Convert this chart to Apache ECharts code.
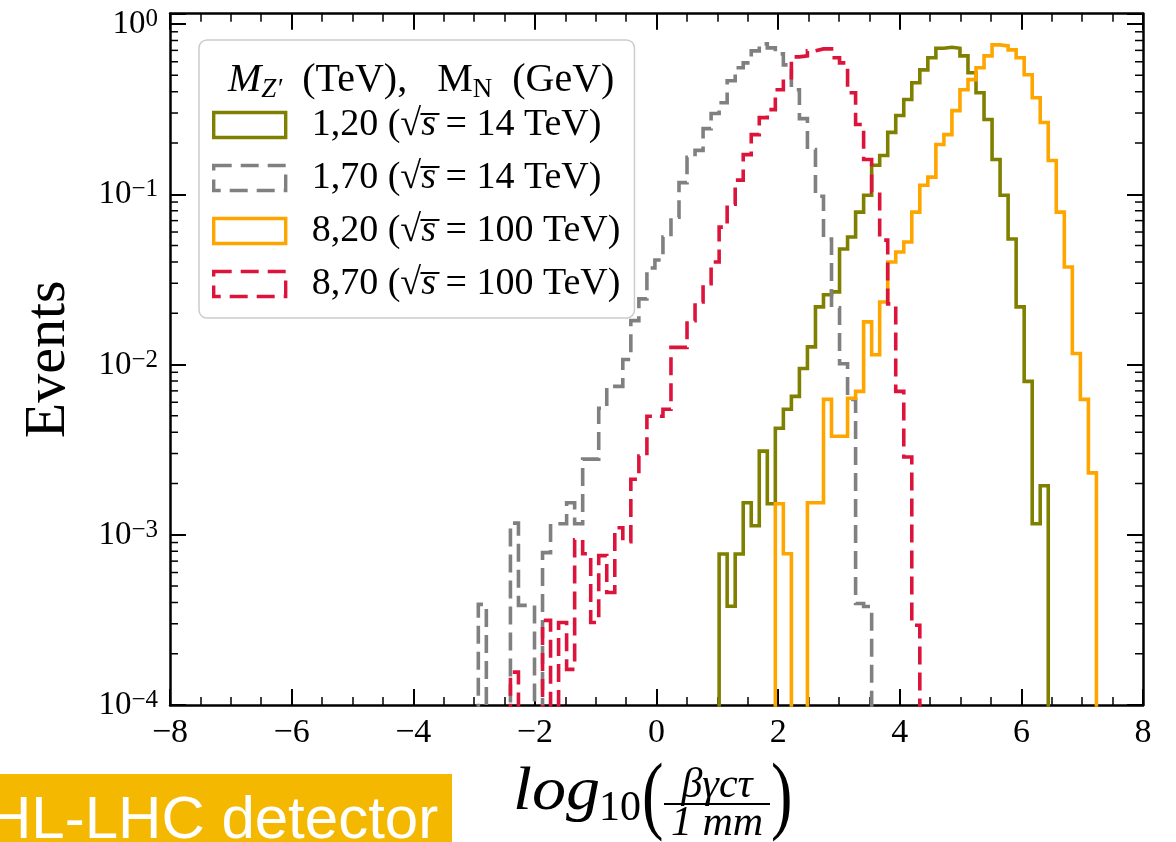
<!DOCTYPE html>
<html>
<head>
<meta charset="utf-8">
<script src="https://cdn.jsdelivr.net/npm/echarts@6/dist/echarts.min.js"></script>
<style>
html, body { margin: 0; padding: 0; background: #fff; }
#chart { width: 1176px; height: 842px; }
</style>
</head>
<body>
<div id="chart"></div>
<script>
// common histogram bin width in log10(beta gamma c tau / 1 mm)
var binWidth = 0.132;

// 1,20 (sqrt(s) = 14 TeV)
var oliveStart = 1.03;
var oliveVals = [0.00077, 0.00038, 0.00077, 0.00154, 0.00113, 0.0031, 0.00152, 0.00422, 0.00546, 0.0065,
    0.00948, 0.0127, 0.0218, 0.0257, 0.0267, 0.0477, 0.0561, 0.0785, 0.0986, 0.148,
    0.169, 0.231, 0.29, 0.36, 0.452, 0.538, 0.633, 0.72, 0.73, 0.72,
    0.65, 0.517, 0.395, 0.275, 0.16, 0.0986, 0.0546, 0.0218, 0.00796, 0.00116, 0.00194];

// 1,70 (sqrt(s) = 14 TeV)
var grayStart = -2.93;
var grayVals = [0.00039, 0, 0, 0, 0.00117, 0.000385, 0.000385, 0, 0.000785, 0.00116,
    0.00116, 0.00154, 0.00116, 0.00278, 0.00278, 0.00553, 0.00744, 0.00744, 0.0107, 0.0181,
    0.0243, 0.0369, 0.0411, 0.0561, 0.0733, 0.117, 0.165, 0.181, 0.243, 0.298,
    0.345, 0.464, 0.553, 0.591, 0.695, 0.764, 0.724, 0.668, 0.575, 0.411,
    0.278, 0.183, 0.0973, 0.0546, 0.0215, 0.0101, 0.00624, 0.000395, 0.000379];

// 8,20 (sqrt(s) = 100 TeV)
var orangeStart = 1.954;
var orangeVals = [0.00152, 0.000774, 0, 0, 0.00154, 0.00154, 0.00624, 0.00379, 0.00379, 0.00633,
    0.00695, 0.0178, 0.0114, 0.0233, 0.04, 0.0458, 0.0524, 0.0785, 0.113, 0.126,
    0.196, 0.224, 0.31, 0.411, 0.471, 0.553, 0.65, 0.754, 0.744, 0.705,
    0.633, 0.503, 0.369, 0.264, 0.158, 0.0785, 0.0374, 0.0116, 0.00624, 0.00231];

// 8,70 (sqrt(s) = 100 TeV)
var redStart = -2.402;
var redVals = [0.000156, 0, 0, 0, 0.000314, 0, 0.000305, 0.000162, 0.000935, 0.000774,
    0.000305, 0.000754, 0.000458, 0.0011, 0.00091, 0.00212, 0.0029, 0.00497, 0.00497, 0.00546,
    0.0126, 0.0126, 0.0181, 0.0233, 0.0298, 0.04, 0.0641, 0.0874, 0.121, 0.171,
    0.224, 0.282, 0.314, 0.411, 0.483, 0.641, 0.65, 0.695, 0.714, 0.714,
    0.633, 0.591, 0.395, 0.257, 0.16, 0.103, 0.0538, 0.0227, 0.00695, 0.00286, 0.000294];

var seriesNames = ['1,20 (14 TeV)', '1,70 (14 TeV)', '8,20 (100 TeV)', '8,70 (100 TeV)'];
var seriesColors = ['#808000', '#808080', '#FFA500', '#DC143C'];
var legendMass = ['1,20', '1,70', '8,20', '8,70'];
var legendEnergy = ['14', '14', '100', '100'];

var xTicks = [-8, -6, -4, -2, 0, 2, 4, 6, 8];
var yDecades = [-4, -3, -2, -1, 0];

var FLOOR = 1e-7;   // empty bins: below the axis, clipped away
var SERIF = '"Liberation Serif", "DejaVu Serif", serif';

// outline of a step histogram
function histPoints(x0, vals) {
    var pts = [[x0, FLOOR]];
    for (var i = 0; i < vals.length; i++) {
        pts.push([x0 + i * binWidth, vals[i] > 0 ? vals[i] : FLOOR]);
    }
    pts.push([x0 + vals.length * binWidth, FLOOR]);
    return pts;
}

// log minor ticks 2..9 per decade
var yMinorTicks = [];
for (var d = 0; d < yDecades.length - 1; d++) {
    for (var k = 2; k <= 9; k++) yMinorTicks.push([0, k * Math.pow(10, yDecades[d])]);
}

function minusSign(n) { return n < 0 ? '\u2212' + (-n) : '' + n; }

var axisLine = { show: true, onZero: false, lineStyle: { color: '#000', width: 2.5 } };
var majorTick = { show: true, inside: true, length: 16, lineStyle: { color: '#000', width: 2 } };

function xAxisCfg(pos, labels) {
    return {
        type: 'value', position: pos, min: xTicks[0], max: xTicks[xTicks.length - 1], interval: 2,
        axisLine: axisLine, axisTick: majorTick,
        minorTick: { show: true, splitNumber: 4, length: 8, lineStyle: { color: '#000', width: 1.5 } },
        splitLine: { show: false }, minorSplitLine: { show: false },
        axisLabel: {
            show: labels, margin: 11, color: '#000', fontFamily: SERIF, fontSize: 34,
            formatter: function (v) { return minusSign(v); }
        }
    };
}

function yAxisCfg(pos, labels) {
    return {
        type: 'log', logBase: 10, position: pos, min: 1e-4, max: 1.15,
        axisLine: axisLine, axisTick: majorTick,
        splitLine: { show: false },
        name: labels ? 'Events' : '', nameLocation: 'middle', nameGap: 92,
        nameTextStyle: { color: '#000', fontFamily: SERIF, fontSize: 58 },
        axisLabel: {
            show: labels, margin: 12, color: '#000',
            formatter: function (v) {
                var l = Math.log10(v), e = Math.round(l);
                if (Math.abs(l - e) > 1e-6) return '';
                return '{b|10}{s|' + minusSign(e) + '}';
            },
            rich: {
                b: { fontFamily: SERIF, fontSize: 33, lineHeight: 34, padding: [8, 0, 0, 0], color: '#000', verticalAlign: 'bottom' },
                s: { fontFamily: SERIF, fontSize: 25, lineHeight: 24, color: '#000', verticalAlign: 'top' }
            }
        }
    };
}

var hists = [
    histPoints(oliveStart, oliveVals),
    histPoints(grayStart, grayVals),
    histPoints(orangeStart, orangeVals),
    histPoints(redStart, redVals)
];
var dashed = [false, true, false, true];

var series = hists.map(function (pts, i) {
    return {
        name: seriesNames[i], type: 'line', step: 'end', data: pts,
        showSymbol: false, symbol: 'none', clip: true, silent: true,
        lineStyle: { color: seriesColors[i], width: 3.6, type: dashed[i] ? [18, 8] : 'solid', join: 'miter', cap: 'butt' },
        itemStyle: { color: seriesColors[i] },
        z: 2 + i
    };
});

series.push({
    type: 'custom', name: 'yminor', silent: true, clip: false, z: 10,
    data: yMinorTicks,
    renderItem: function (params, api) {
        var v = api.value(1);
        var l = api.coord([xTicks[0], v]), r = api.coord([xTicks[xTicks.length - 1], v]);
        return {
            type: 'group', children: [
                { type: 'line', shape: { x1: l[0], y1: l[1], x2: l[0] + 8, y2: l[1] }, style: { stroke: '#000', lineWidth: 1.5 } },
                { type: 'line', shape: { x1: r[0], y1: r[1], x2: r[0] - 8, y2: r[1] }, style: { stroke: '#000', lineWidth: 1.5 } }
            ]
        };
    }
});

var textRich = {
    t: { fontFamily: SERIF, fontSize: 38, color: '#000' },
    i: { fontFamily: SERIF, fontSize: 38, fontStyle: 'italic', color: '#000' }
};

var option = {
    animation: false,
    backgroundColor: '#fff',
    grid: { left: 170, right: 33, top: 11, bottom: 137, containLabel: false },
    xAxis: [xAxisCfg('bottom', true), xAxisCfg('top', false)],
    yAxis: [yAxisCfg('left', true), yAxisCfg('right', false)],
    title: {
        left: 223, top: 52, z: 20,
        text: '{i|M}{sub|Z\u2032}{t|  (TeV),   M}{sr|N}{t|  (GeV)}',
        textStyle: {
            fontWeight: 'normal',
            rich: {
                t: { fontFamily: SERIF, fontSize: 40, lineHeight: 46, fontWeight: 'normal', color: '#000' },
                i: { fontFamily: SERIF, fontSize: 40, lineHeight: 46, fontWeight: 'normal', fontStyle: 'italic', color: '#000' },
                sub: { fontFamily: SERIF, fontSize: 27, lineHeight: 27, fontWeight: 'normal', fontStyle: 'italic', color: '#000', verticalAlign: 'bottom' },
                sr: { fontFamily: SERIF, fontSize: 27, lineHeight: 27, fontWeight: 'normal', color: '#000', verticalAlign: 'bottom' }
            }
        }
    },
    legend: {
        orient: 'vertical', left: 199, top: 40, z: 15,
        padding: [66, 14, 15, 13],
        itemWidth: 72, itemHeight: 25, itemGap: 15,
        selectedMode: false,
        backgroundColor: 'rgba(255,255,255,0.8)', borderColor: '#cccccc', borderWidth: 1.5, borderRadius: 8,
        data: seriesNames.map(function (n, i) {
            return {
                name: n, icon: 'rect',
                itemStyle: { color: 'rgba(255,255,255,0)', borderColor: seriesColors[i], borderWidth: 3.4, borderType: dashed[i] ? [18, 9] : 'solid' }
            };
        }),
        formatter: function (name) {
            var i = seriesNames.indexOf(name);
            return '{t|' + legendMass[i] + ' (}{t|\u221A}{i|s\u0305}{t| = ' + legendEnergy[i] + ' TeV)}';
        },
        textStyle: { padding: [0, 0, 0, 21], lineHeight: 38, rich: textRich }
    },
    graphic: [
        { type: 'rect', left: 0, top: 774, shape: { width: 452, height: 68 }, style: { fill: '#F5B800' }, z: 1 },
        { type: 'text', x: -12, y: 821, style: { text: 'HL-LHC detector', font: '60px "Liberation Sans", Arial, sans-serif', fill: '#fff', verticalAlign: 'middle' }, z: 2 },
        // x axis title: log10( beta gamma c tau / 1 mm )
        { type: 'text', x: 513, y: 793, scaleX: 1.1, style: { text: 'log', font: 'italic 62px ' + SERIF, fill: '#000', verticalAlign: 'middle' } },
        { type: 'text', x: 599, y: 809, style: { text: '10', font: '42px ' + SERIF, fill: '#000', verticalAlign: 'middle' } },
        { type: 'text', x: 642, y: 800, scaleX: 0.75, style: { text: '(', font: '86px ' + SERIF, fill: '#000', verticalAlign: 'middle' } },
        { type: 'text', x: 717, y: 786, style: { text: '\u03B2\u03B3c\u03C4', font: 'italic 42px ' + SERIF, fill: '#000', align: 'center', verticalAlign: 'middle' } },
        { type: 'line', shape: { x1: 664, y1: 804, x2: 770, y2: 804 }, style: { stroke: '#000', lineWidth: 2 } },
        { type: 'text', x: 717, y: 824, style: { text: '1 mm', font: 'italic 42px ' + SERIF, fill: '#000', align: 'center', verticalAlign: 'middle' } },
        { type: 'text', x: 771, y: 800, scaleX: 0.75, style: { text: ')', font: '86px ' + SERIF, fill: '#000', verticalAlign: 'middle' } }
    ],
    series: series
};

var myChart = echarts.init(document.getElementById('chart'));
myChart.setOption(option);
</script>
</body>
</html>
